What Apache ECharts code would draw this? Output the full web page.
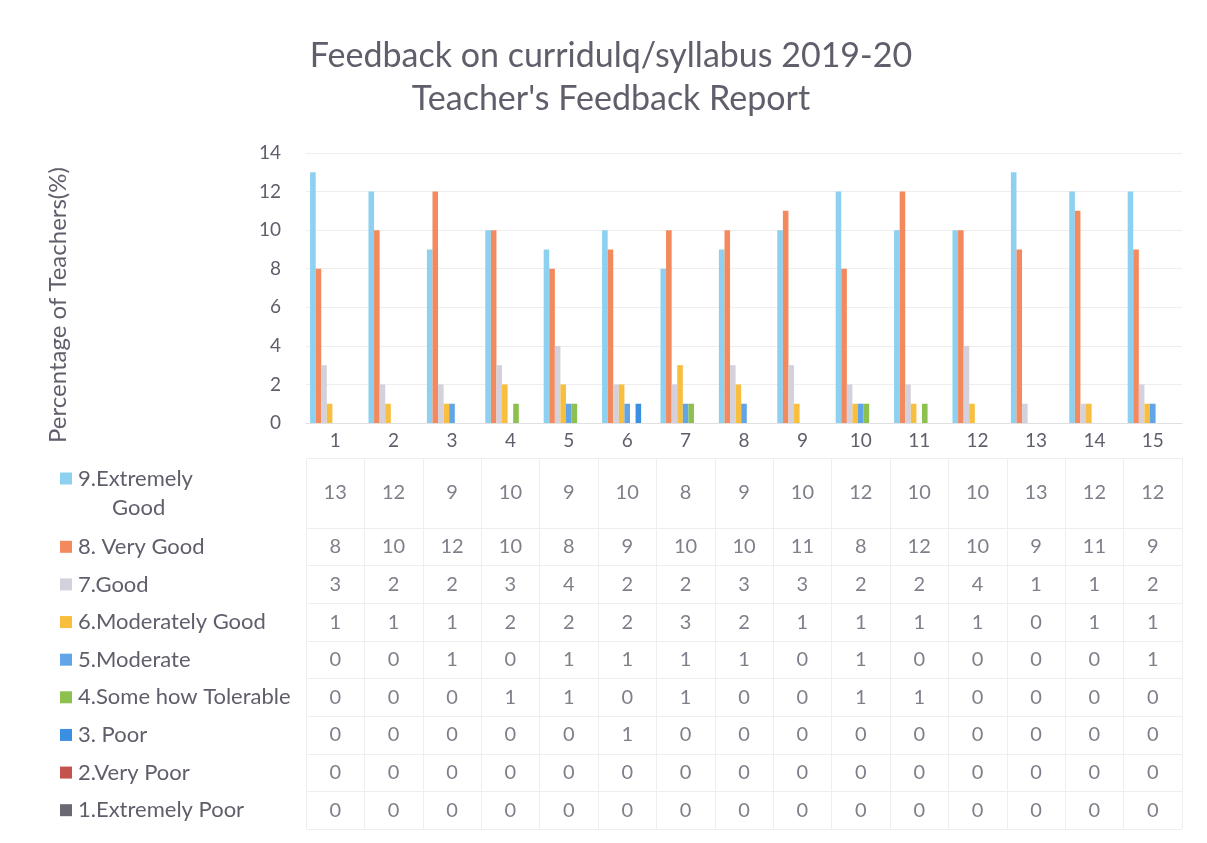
<!DOCTYPE html>
<html>
<head>
<meta charset="utf-8">
<script src="https://cdn.jsdelivr.net/npm/echarts@6/dist/echarts.min.js"></script>
<style>html,body{margin:0;padding:0;background:#fff}#c{width:1207px;height:843px}</style>
</head>
<body>
<div id="c"></div>
<script>
// ---- data ----
var categories = ['1','2','3','4','5','6','7','8','9','10','11','12','13','14','15'];
var seriesNames = ['9.Extremely Good','8. Very Good','7.Good','6.Moderately Good','5.Moderate','4.Some how Tolerable','3. Poor','2.Very Poor','1.Extremely Poor'];
var extremelyGood   = [13,12,9,10,9,10,8,9,10,12,10,10,13,12,12];
var veryGood        = [8,10,12,10,8,9,10,10,11,8,12,10,9,11,9];
var good            = [3,2,2,3,4,2,2,3,3,2,2,4,1,1,2];
var moderatelyGood  = [1,1,1,2,2,2,3,2,1,1,1,1,0,1,1];
var moderate        = [0,0,1,0,1,1,1,1,0,1,0,0,0,0,1];
var someHowTolerable= [0,0,0,1,1,0,1,0,0,1,1,0,0,0,0];
var poor            = [0,0,0,0,0,1,0,0,0,0,0,0,0,0,0];
var veryPoor        = [0,0,0,0,0,0,0,0,0,0,0,0,0,0,0];
var extremelyPoor   = [0,0,0,0,0,0,0,0,0,0,0,0,0,0,0];
var yTicks = [0,2,4,6,8,10,12,14];

var allValues = [extremelyGood, veryGood, good, moderatelyGood, moderate, someHowTolerable, poor, veryPoor, extremelyPoor];
var colors = ['#8dd0f0','#f28a5e','#d4d1dc','#f8be3e','#62a5e6','#8cc04f','#3b8fe0','#c4524d','#6c6872'];

var FONT = 'Lato';
var TXT = '#5f5e6b';
var LINE = '#eeeeee';

var chart = echarts.init(document.getElementById('c'), null, {renderer:'canvas'});

var series = [];
allValues.forEach(function(vals, i){
  series.push({
    name: seriesNames[i], type:'bar', xAxisIndex:0, yAxisIndex:0,
    data: vals, barGap:'0%', barCategoryGap:'14%',
    itemStyle:{color:colors[i]}, silent:true
  });
});
// table: first row
series.push({
  type:'scatter', xAxisIndex:1, yAxisIndex:1, symbolSize:0, silent:true,
  data: extremelyGood.map(function(v,j){return [j,0,v];}),
  label:{show:true, position:'inside', formatter:function(p){return p.value[2];}, color:TXT, fontFamily:FONT, fontSize:20}
});
// table: remaining rows
var rest = [];
for (var r=1;r<allValues.length;r++){
  allValues[r].forEach(function(v,j){ rest.push([j, r-1, v]); });
}
series.push({
  type:'scatter', xAxisIndex:2, yAxisIndex:2, symbolSize:0, silent:true,
  data: rest,
  label:{show:true, position:'inside', formatter:function(p){return p.value[2];}, color:TXT, fontFamily:FONT, fontSize:20}
});

function richFor(){
  var rich = {t:{color:TXT, fontFamily:FONT, fontSize:22, padding:[0,0,0,6], lineHeight:29},
              g:{color:TXT, fontFamily:FONT, fontSize:22, padding:[0,0,0,52], lineHeight:29}};
  colors.forEach(function(c,i){ rich['k'+i] = {width:12, height:12, backgroundColor:c}; });
  return rich;
}
var restNames = seriesNames.slice(1);

var option = {
  animation:false,
  backgroundColor:'#fff',
  title:{
    text:'Feedback on curridulq/syllabus 2019-20\nTeacher\'s Feedback Report',
    top:30, left:606, textAlign:'center',
    textStyle:{fontFamily:FONT, fontSize:34, fontWeight:'normal', color:TXT, lineHeight:43}
  },
  grid:[
    {left:306, right:25, top:153, height:270},
    {left:306, right:25, top:458, height:70},
    {left:306, right:25, top:528, height:301}
  ],
  xAxis:[
    {type:'category', gridIndex:0, data:categories,
     axisLine:{show:true, lineStyle:{color:'#e0e0e0'}}, axisTick:{show:false},
     axisLabel:{color:TXT, fontFamily:FONT, fontSize:19, margin:8}},
    {type:'category', gridIndex:1, data:categories, axisLine:{show:false}, axisTick:{show:false}, axisLabel:{show:false},
     splitLine:{show:true, lineStyle:{color:LINE}}},
    {type:'category', gridIndex:2, data:categories, axisLine:{show:false}, axisTick:{show:false}, axisLabel:{show:false},
     splitLine:{show:true, lineStyle:{color:LINE}}}
  ],
  yAxis:[
    {type:'value', gridIndex:0, min:yTicks[0], max:yTicks[yTicks.length-1], interval:2,
     axisLine:{show:false}, axisTick:{show:false},
     splitLine:{show:true, lineStyle:{color:LINE}},
     axisLabel:{color:TXT, fontFamily:FONT, fontSize:19, margin:25},
     name:'Percentage of Teachers(%)', nameLocation:'middle', nameGap:236, nameRotate:90,
     nameTextStyle:{color:TXT, fontFamily:FONT, fontSize:24, padding:[0,34,0,0]}},
    {type:'category', gridIndex:1, data:[seriesNames[0]], inverse:true,
     axisLine:{show:false}, axisTick:{show:false},
     splitLine:{show:true, lineStyle:{color:LINE}},
     axisLabel:{align:'left', margin:246, rich:richFor(),
       formatter:function(){ return '{k0|}{t|9.Extremely}\n{g|Good}'; }}},
    {type:'category', gridIndex:2, data:restNames, inverse:true,
     axisLine:{show:false}, axisTick:{show:false},
     splitLine:{show:true, lineStyle:{color:LINE}},
     axisLabel:{align:'left', margin:246, rich:richFor(),
       formatter:function(v){ var i = seriesNames.indexOf(v); return '{k'+i+'|}{t|'+v+'}'; }}}
  ],
  series: series
};
chart.setOption(option);
</script>
</body>
</html>
